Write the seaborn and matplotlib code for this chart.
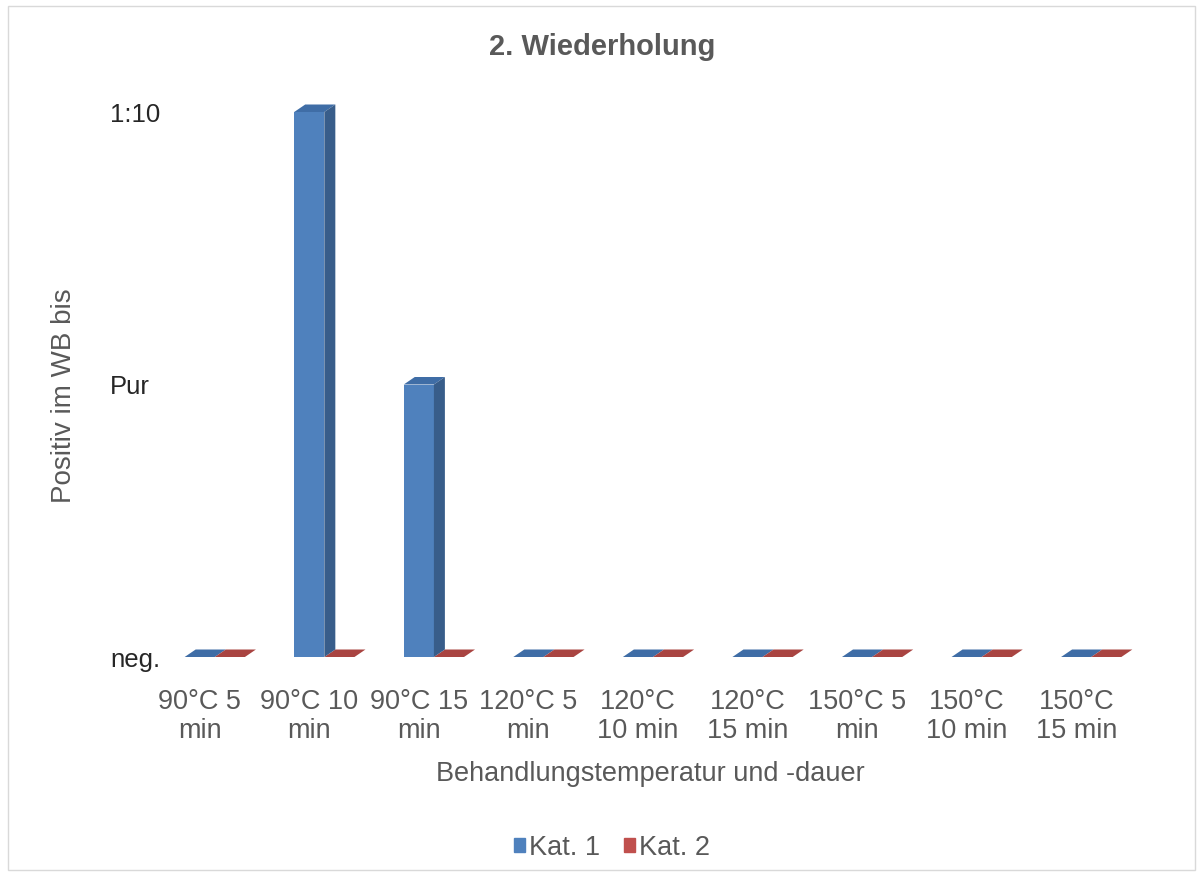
import matplotlib.pyplot as plt
import matplotlib.transforms as mtransforms
import pandas as pd
import seaborn as sns
from matplotlib.patches import Polygon, Rectangle

# data
categories = [
    "90°C 5\nmin", "90°C 10\nmin", "90°C 15\nmin", "120°C 5\nmin", "120°C\n10 min",
    "120°C\n15 min", "150°C 5\nmin", "150°C\n10 min", "150°C\n15 min",
]
series = ["Kat. 1", "Kat. 2"]
kat1 = [0, 2, 1, 0, 0, 0, 0, 0, 0]
kat2 = [0, 0, 0, 0, 0, 0, 0, 0, 0]
y_ticks = [0, 1, 2]
y_labels = ["neg.", "Pur", "1:10"]

front = {"Kat. 1": "#4F81BD", "Kat. 2": "#C0504D"}
side = {"Kat. 1": "#385D8A", "Kat. 2": "#8C3836"}
top = {"Kat. 1": "#3F6DA6", "Kat. 2": "#A94441"}
grey = "#595959"

sns.set_theme(style="white")
plt.rcParams["font.family"] = ["Liberation Sans", "DejaVu Sans"]

df = pd.DataFrame({
    "Kategorie": categories * 2,
    "Serie": [series[0]] * len(kat1) + [series[1]] * len(kat2),
    "Wert": kat1 + kat2,
})

W, H = 1204, 875
fig = plt.figure(figsize=(W / 100, H / 100), dpi=100)
ax = fig.add_axes([160 / W, 218 / H, 986 / W, 545 / H])

sns.barplot(data=df, x="Kategorie", y="Wert", hue="Serie", palette=front,
            width=0.55, saturation=1, linewidth=0, legend=False, ax=ax)
ax.set_xlim(-0.5, 8.5)
ax.set_ylim(0, 2)

# fake 3D depth (pixels -> data units)
p0 = ax.transData.transform((0, 0))
p1 = ax.transData.transform((1, 1))
dx = 11 / (p1[0] - p0[0])
dy = 7.5 / (p1[1] - p0[1])

for container, name in zip(ax.containers, series):
    for bar in container:
        x0, w, h = bar.get_x(), bar.get_width(), bar.get_height()
        ax.add_patch(Polygon([(x0, h), (x0 + w, h), (x0 + w + dx, h + dy), (x0 + dx, h + dy)],
                             closed=True, color=top[name], lw=0, clip_on=False, zorder=2.5))
        if h > 0:
            ax.add_patch(Polygon([(x0 + w, 0), (x0 + w + dx, dy), (x0 + w + dx, h + dy), (x0 + w, h)],
                                 closed=True, color=side[name], lw=0, clip_on=False, zorder=3))

sns.despine(ax=ax, left=True, bottom=True)
ax.set_yticks(y_ticks)
ax.set_yticklabels(y_labels, fontsize=18.5, color="#262626", ha="left")
ax.tick_params(axis="y", length=0, pad=36)
ax.tick_params(axis="x", length=0, pad=23, labelsize=19.5, labelcolor=grey)
shift = mtransforms.ScaledTranslation(-0.15, 0, fig.dpi_scale_trans)
for lab in ax.get_xticklabels():
    lab.set_linespacing(1.15)
    lab.set_transform(lab.get_transform() + shift)

ax.set_xlabel("Behandlungstemperatur und -dauer", fontsize=19.5, color=grey)
ax.xaxis.set_label_coords(0.497, -0.19)
ax.set_ylabel("Positiv im WB bis", fontsize=20, color=grey)
ax.yaxis.set_label_coords(-0.084, 0.479)

fig.text(0.5, 1 - 47 / H, "2. Wiederholung", ha="center", va="center",
         fontsize=21, fontweight="bold", color=grey)

handles = [Rectangle((0, 0), 1, 1, color=front[s]) for s in series]
fig.legend(handles, series, loc="center", bbox_to_anchor=(612 / W, 1 - 848 / H), ncol=2,
           frameon=False, handlelength=0.4, handleheight=0.4, handletextpad=0.15,
           columnspacing=0.9, fontsize=19.5, labelcolor=grey)

fig.patches.append(Rectangle((8 / W, 5 / H), (1195 - 8) / W, (869 - 5) / H,
                             transform=fig.transFigure, fill=False,
                             edgecolor="#D9D9D9", lw=1))

fig.savefig("out.png", dpi=100)
